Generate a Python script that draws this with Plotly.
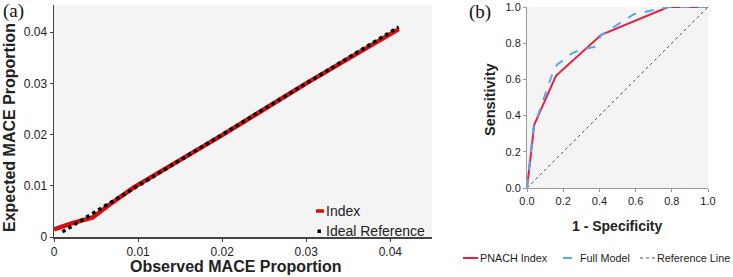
import plotly.graph_objects as go

W, H = 733, 277

# ---- data: calibration plot (a)
index_obs = [0.0, 0.002, 0.0046, 0.0065, 0.0095, 0.02, 0.03, 0.041]
index_exp = [0.0015, 0.0026, 0.0038, 0.0062, 0.0097, 0.0199, 0.0300, 0.0406]
ideal_obs = [0.001, 0.041]
ideal_exp = [0.001, 0.041]
calib_ticks = [0, 0.01, 0.02, 0.03, 0.04]
calib_labels = ["0", "0.01", "0.02", "0.03", "0.04"]

# ---- data: ROC plot (b)
pnach_fpr = [0.0, 0.04, 0.16, 0.41, 0.78, 1.0]
pnach_tpr = [0.0, 0.35, 0.62, 0.846, 1.0, 1.0]
full_fpr = [0.0, 0.035, 0.06, 0.14, 0.165, 0.25, 0.30, 0.375, 0.41, 0.59, 0.78, 1.0]
full_tpr = [0.0, 0.33, 0.40, 0.63, 0.68, 0.745, 0.765, 0.78, 0.845, 0.96, 1.0, 1.0]
ref_x = [0.0, 1.0]
ref_y = [0.0, 1.0]
roc_ticks = [0.0, 0.2, 0.4, 0.6, 0.8, 1.0]

legend_a = ["Index", "Ideal Reference"]
legend_b = ["PNACH Index", "Full Model", "Reference Line"]

RED_A = "#d40f0f"
RED_B = "#e5203f"
BLUE_B = "#62a4ec"
GRAY_B = "#555555"
BG = "#f4f4f4"
FONT = "Liberation Sans, Arial, sans-serif"
SERIF = "Liberation Serif, Times New Roman, serif"


def px(x):
    return x / W


def py(y):
    return 1 - y / H


fig = go.Figure()

fig.add_trace(go.Scatter(x=index_obs, y=index_exp, mode="lines",
                         line=dict(color=RED_A, width=4.5), xaxis="x", yaxis="y",
                         name=legend_a[0], showlegend=False))
fig.add_trace(go.Scatter(x=ideal_obs, y=ideal_exp, mode="lines",
                         line=dict(color="black", width=3.5, dash="dot"), xaxis="x", yaxis="y",
                         name=legend_a[1], showlegend=False))

fig.add_trace(go.Scatter(x=ref_x, y=ref_y, mode="lines",
                         line=dict(color=GRAY_B, width=1, dash="dot"), xaxis="x2", yaxis="y2",
                         name=legend_b[2], showlegend=False))
fig.add_trace(go.Scatter(x=pnach_fpr, y=pnach_tpr, mode="lines",
                         line=dict(color=RED_B, width=2), xaxis="x2", yaxis="y2",
                         name=legend_b[0], showlegend=False))
fig.add_trace(go.Scatter(x=full_fpr, y=full_tpr, mode="lines",
                         line=dict(color=BLUE_B, width=2, dash="dash"), xaxis="x2", yaxis="y2",
                         name=legend_b[1], showlegend=False))

axis_common = dict(showgrid=False, zeroline=False, showline=True, ticks="outside",
                   ticklen=3, automargin=False)

fig.update_layout(
    width=W, height=H,
    margin=dict(l=0, r=0, t=0, b=0, autoexpand=False),
    paper_bgcolor="white",
    plot_bgcolor=BG,
    font=dict(family=FONT, color="#222222"),
    xaxis=dict(domain=[px(54), px(432)], range=[0, 0.04496], tickvals=calib_ticks,
               ticktext=calib_labels, linecolor="#444444", linewidth=1.5,
               tickcolor="#444444", anchor="y",
               tickfont=dict(family=FONT, size=12, color="#222222"), **axis_common),
    yaxis=dict(domain=[py(237), py(5)], range=[0, 0.0453], tickvals=calib_ticks,
               ticktext=calib_labels, linecolor="#444444", linewidth=1.5,
               tickcolor="#444444", anchor="x",
               tickfont=dict(family=FONT, size=12, color="#222222"), **axis_common),
    xaxis2=dict(domain=[px(527), px(708)], range=[0, 1], tickvals=roc_ticks,
                tickformat=".1f", linecolor="#999999", linewidth=1,
                tickcolor="#999999", anchor="y2",
                tickfont=dict(family=FONT, size=11, color="#222222"), **axis_common),
    yaxis2=dict(domain=[py(188), py(7)], range=[0, 1], tickvals=roc_ticks,
                tickformat=".1f", linecolor="#999999", linewidth=1,
                tickcolor="#999999", anchor="x2",
                tickfont=dict(family=FONT, size=11, color="#222222"), **axis_common),
)

annots = [
    dict(text="(a)", x=px(1), y=py(11), xanchor="left", yanchor="middle",
         font=dict(family=SERIF, size=19, color="#111111")),
    dict(text="(b)", x=px(467), y=py(12), xanchor="left", yanchor="middle",
         font=dict(family=SERIF, size=19, color="#111111")),
    dict(text="<b>Observed MACE Proportion</b>", x=px(236), y=py(266.5), xanchor="center",
         yanchor="middle", font=dict(family=FONT, size=16, color="#222222")),
    dict(text="<b>Expected MACE Proportion</b>", x=px(9), y=py(128), xanchor="center",
         yanchor="middle", textangle=-90, font=dict(family=FONT, size=16, color="#222222")),
    dict(text="<b>1 - Specificity</b>", x=px(617), y=py(226), xanchor="center",
         yanchor="middle", font=dict(family=FONT, size=14, color="#222222")),
    dict(text="<b>Sensitivity</b>", x=px(490), y=py(100), xanchor="center",
         yanchor="middle", textangle=-90, font=dict(family=FONT, size=14.5, color="#222222")),
    dict(text=legend_a[0], x=px(324), y=py(211), xanchor="left", yanchor="middle",
         font=dict(family=FONT, size=14, color="#222222")),
    dict(text=legend_a[1], x=px(324), y=py(231), xanchor="left", yanchor="middle",
         font=dict(family=FONT, size=14, color="#222222")),
    dict(text=legend_b[0], x=px(478), y=py(258), xanchor="left", yanchor="middle",
         font=dict(family=FONT, size=10.8, color="#222222")),
    dict(text=legend_b[1], x=px(578), y=py(258), xanchor="left", yanchor="middle",
         font=dict(family=FONT, size=10.8, color="#222222")),
    dict(text=legend_b[2], x=px(655), y=py(258), xanchor="left", yanchor="middle",
         font=dict(family=FONT, size=10.8, color="#222222")),
]
for a in annots:
    a.update(xref="paper", yref="paper", showarrow=False)
fig.update_layout(annotations=annots)

shapes = [
    dict(type="line", x0=px(316), x1=px(324), y0=py(211), y1=py(211),
         line=dict(color=RED_A, width=3.5)),
    dict(type="rect", x0=px(317.5), x1=px(321), y0=py(229.5), y1=py(233),
         line=dict(width=0), fillcolor="black"),
    dict(type="line", x0=px(463), x1=px(478), y0=py(258), y1=py(258),
         line=dict(color=RED_B, width=2)),
    dict(type="line", x0=px(563), x1=px(578), y0=py(258), y1=py(258),
         line=dict(color=BLUE_B, width=2, dash="dash")),
    dict(type="line", x0=px(640), x1=px(655), y0=py(258), y1=py(258),
         line=dict(color=GRAY_B, width=1, dash="dot")),
]
for s in shapes:
    s.update(xref="paper", yref="paper")
fig.update_layout(shapes=shapes)

fig.write_html(
    "out.html",
    config={"displayModeBar": False, "staticPlot": True},
    post_script="document.body.style.margin='0';document.body.style.padding='0';"
                "document.body.style.overflow='hidden';",
)
